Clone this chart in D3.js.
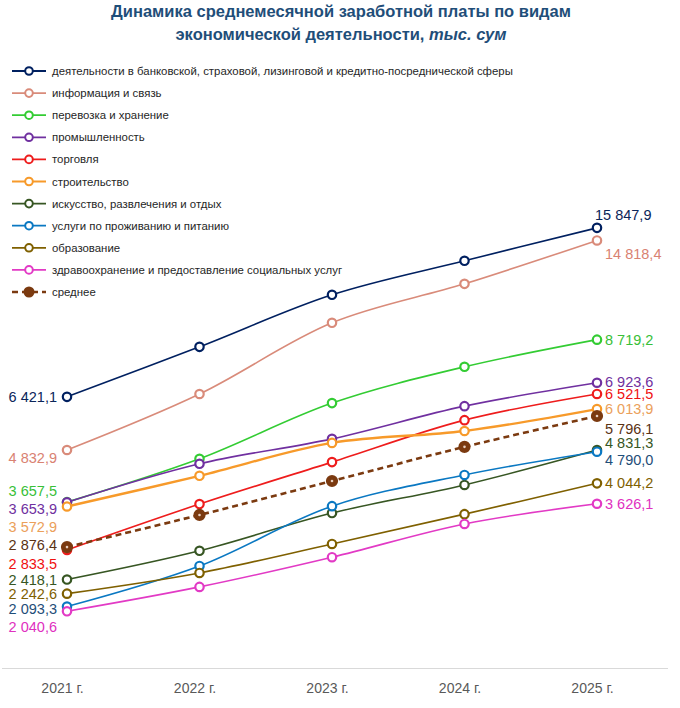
<!DOCTYPE html>
<html>
<head>
<meta charset="utf-8">
<script src="https://cdn.jsdelivr.net/npm/d3@7"></script>
<style>
  body { margin: 0; background: #fff; }
  text { font-family: "Liberation Sans", Arial, sans-serif; }
</style>
</head>
<body>
<svg id="chart"></svg>
<script>
// years on the x axis
const years = ['2021 г.', '2022 г.', '2023 г.', '2024 г.', '2025 г.'];

// series names (legend order)
const seriesNames = [
  'деятельности в банковской, страховой, лизинговой и кредитно-посреднической сферы',
  'информация и связь',
  'перевозка и хранение',
  'промышленность',
  'торговля',
  'строительство',
  'искусство, развлечения и отдых',
  'услуги по проживанию и питанию',
  'образование',
  'здравоохранение и предоставление социальных услуг',
  'среднее'
];

// values, тыс. сум (intermediate years)
const bank = [6421.1, 8390, 11080, 13290, 15847.9];
const info = [4832.9, 6520, 9540, 11750, 14818.4];
const transport = [3657.5, 4610, 6210, 7540, 8719.2];
const industry = [3653.9, 4490, 5130, 6110, 6923.6];
const trade = [2833.5, 3620, 4530, 5670, 6521.5];
const construction = [3572.9, 4210, 5020, 5350, 6013.9];
const arts = [2418.1, 2820, 3450, 4010, 4831.3];
const accommodation = [2093.3, 2600, 3580, 4230, 4790.0];
const education = [2242.6, 2505, 2925, 3430, 4044.2];
const health = [2040.6, 2325, 2725, 3255, 3626.1];
const average = [2876.4, 3415, 4095, 4915, 5796.1];

const seriesValues = [bank, info, transport, industry, trade, construction,
  arts, accommodation, education, health, average];

// styling per series
const lineColors = ['#002060', '#d98b7a', '#33cc33', '#7030a0', '#ee1c1c', '#f79a2a',
  '#375623', '#0a78c2', '#7f6000', '#e23ac5', '#7b3a10'];
const labelColors = ['#0b2559', '#d98272', '#38c038', '#7030a0', '#f01010', '#eba05a',
  '#375623', '#1f4e79', '#7f6000', '#e030c0', '#5a3214'];
const lineWidths = [1.6, 1.6, 1.6, 1.6, 1.6, 2.4, 1.6, 1.6, 1.6, 1.6, 2.6];

// label offsets [dx, dy] relative to the first / last point
const startLabel = [[-10, 0], [-10, 8], [-10, -11], [-10, 7], [-10, 14], [-10, 20],
  [-10, 0], [-10, 2], [-10, 0], [-10, 16], [-10, -2]];
const endLabel = [[-2, -13], [8, 13], [8, 0], [8, -1], [8, 0], [8, 0],
  [8, -7], [8, 8], [8, 0], [8, 0], [8, 13]];

function fmt(v) {
  const s = v.toFixed(1).replace('.', ',');
  const [i, d] = s.split(',');
  return i.replace(/\B(?=(\d{3})+(?!\d))/g, ' ') + ',' + d;
}

const W = 680, H = 708;
const svg = d3.select('#chart').attr('width', W).attr('height', H);

// title
const title = svg.append('text')
  .attr('x', 341).attr('y', 17)
  .attr('text-anchor', 'middle')
  .style('font-size', '16.5px').style('font-weight', 'bold')
  .style('fill', '#1f4e79');
title.append('tspan').attr('x', 341).attr('dy', 0)
  .text('Динамика среднемесячной заработной платы по видам');
const t2 = title.append('tspan').attr('x', 341).attr('dy', 23);
t2.append('tspan').text('экономической деятельности, ');
t2.append('tspan').style('font-style', 'italic').text('тыс. сум');

// scales
const x = d3.scalePoint().domain(years).range([67, 597]);
const y = d3.scaleLog().domain([1515, 20470]).range([667, 180]);

// axis
svg.append('line')
  .attr('x1', 2).attr('x2', 668)
  .attr('y1', 668.5).attr('y2', 668.5)
  .style('stroke', '#d9d9d9').style('stroke-width', 1.2);
const g_xaxis = svg.append('g')
  .attr('transform', 'translate(-5,668)')
  .call(d3.axisBottom(x).tickSize(0).tickPadding(15));
g_xaxis.select('.domain').remove();
g_xaxis.selectAll('text')
  .style('font-family', '"Liberation Sans", Arial, sans-serif')
  .style('font-size', '14px').style('fill', '#595959');

// lines
const line = d3.line()
  .x((d, i) => x(years[i]))
  .y((d) => y(d))
  .curve(d3.curveCatmullRom.alpha(0.5));

const series = seriesNames.map((name, i) => ({name, values: seriesValues[i], i}));

const gs = svg.selectAll('g.series').data(series).enter()
  .append('g').attr('class', 'series');

gs.append('path')
  .attr('d', (d) => line(d.values))
  .style('fill', 'none')
  .style('stroke', (d) => lineColors[d.i])
  .style('stroke-width', (d) => lineWidths[d.i])
  .style('stroke-dasharray', (d) => d.i === 10 ? '6,4' : null);

gs.selectAll('circle').data((d) => d.values.map((v, k) => ({v, k, i: d.i})))
  .enter().append('circle')
  .attr('cx', (d) => x(years[d.k]))
  .attr('cy', (d) => y(d.v))
  .attr('r', (d) => d.i === 10 ? 5 : 4.2)
  .style('fill', (d) => d.i === 10 ? '#7b3a10' : '#fff')
  .style('stroke', (d) => lineColors[d.i])
  .style('stroke-width', 2.2);

// light centre for the average markers
svg.selectAll('circle.avgc').data(average).enter()
  .append('circle').attr('class', 'avgc')
  .attr('cx', (d, k) => x(years[k]))
  .attr('cy', (d) => y(d))
  .attr('r', 1.3)
  .style('fill', '#e8d0c0');

// value labels at both ends
gs.append('text')
  .attr('x', (d) => x(years[0]) + startLabel[d.i][0])
  .attr('y', (d) => y(d.values[0]) + startLabel[d.i][1])
  .attr('dy', '0.35em')
  .attr('text-anchor', 'end')
  .style('font-size', '14.5px')
  .style('fill', (d) => labelColors[d.i])
  .text((d) => fmt(d.values[0]));

gs.append('text')
  .attr('x', (d) => x(years[4]) + endLabel[d.i][0])
  .attr('y', (d) => y(d.values[4]) + endLabel[d.i][1])
  .attr('dy', '0.35em')
  .attr('text-anchor', 'start')
  .style('font-size', '14.5px')
  .style('fill', (d) => labelColors[d.i])
  .text((d) => fmt(d.values[4]));

// legend
const legend = svg.append('g').attr('transform', 'translate(12,71)');
const li = legend.selectAll('g').data(series).enter()
  .append('g').attr('transform', (d) => `translate(0,${d.i * 22.1})`);
li.append('line')
  .attr('x1', 0).attr('x2', 34)
  .style('stroke', (d) => lineColors[d.i])
  .style('stroke-width', (d) => d.i === 10 ? 2.6 : 1.8)
  .style('stroke-dasharray', (d) => d.i === 10 ? '6,4' : null);
li.append('circle')
  .attr('cx', 17).attr('r', (d) => d.i === 10 ? 4.5 : 3.8)
  .style('fill', (d) => d.i === 10 ? '#7b3a10' : '#fff')
  .style('stroke', (d) => lineColors[d.i])
  .style('stroke-width', 2);
li.append('text')
  .attr('x', 40).attr('dy', '0.35em')
  .style('font-size', '11.4px').style('fill', '#262626')
  .text((d) => d.name);
</script>
</body>
</html>
